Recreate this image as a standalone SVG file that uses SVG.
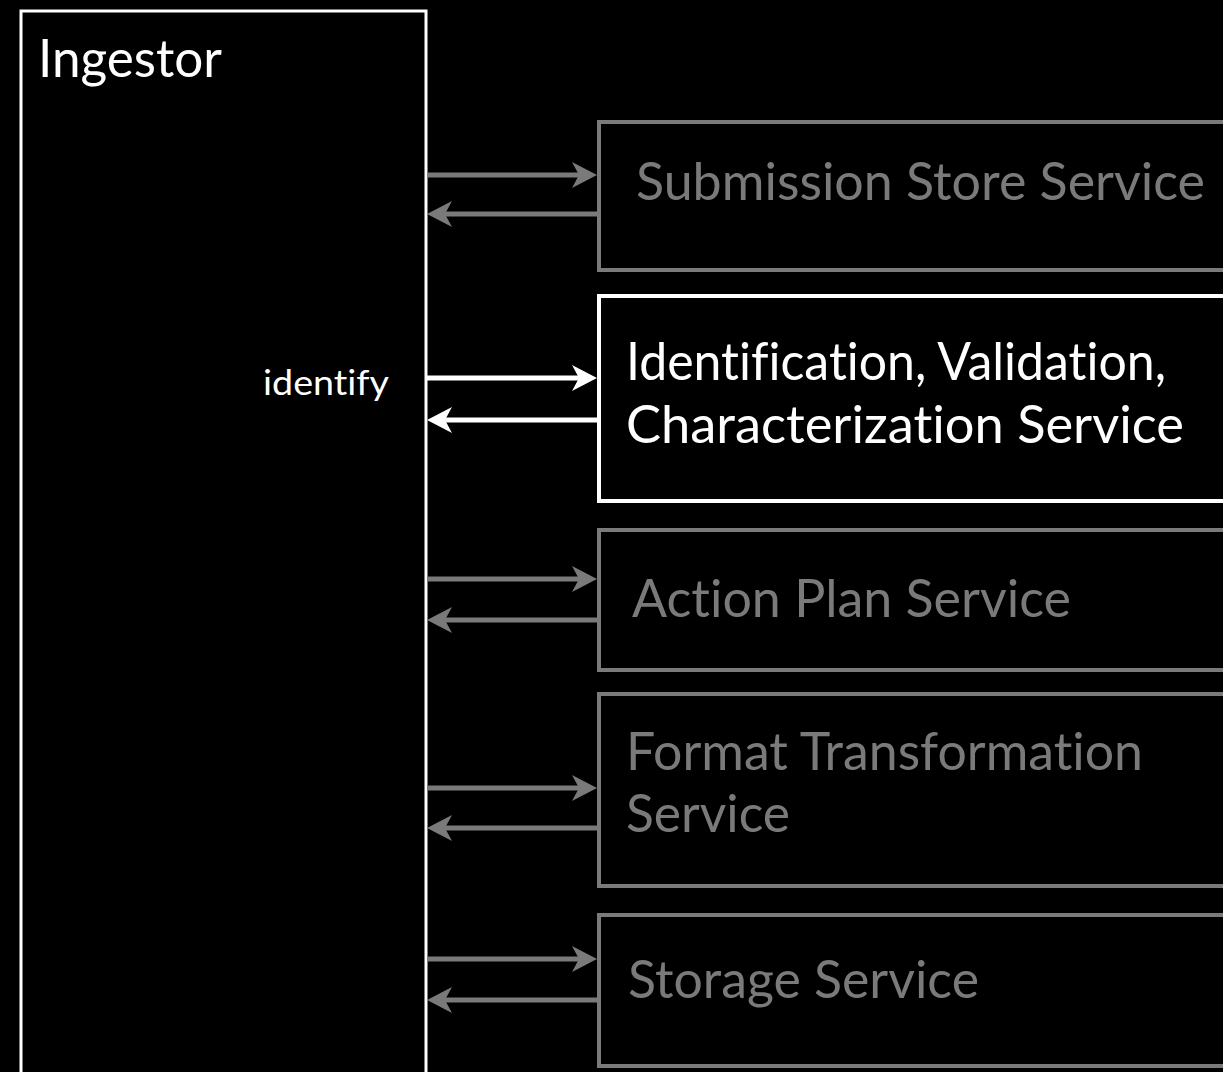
<svg xmlns="http://www.w3.org/2000/svg" width="1223" height="1072" viewBox="0 0 1223 1072">
<style>
text{font-variant-ligatures:none;font-feature-settings:"liga" 0,"clig" 0}
.t{font-family:"Lato","Open Sans","Liberation Sans",sans-serif;font-size:52px}
.g{fill:#7a7a7a}
.w{fill:#ffffff}
.bg{fill:#000;stroke:#7a7a7a;stroke-width:4}
.bw{fill:#000;stroke:#ffffff;stroke-width:4}
.lg{stroke:#7a7a7a;stroke-width:5;fill:none}
.lw{stroke:#ffffff;stroke-width:5;fill:none}
</style>
<defs>
<path id="hr" d="M0,0 L-25,-13 L-18,0 L-25,13 Z"/>
<path id="hl" d="M0,0 L25,-13 L18,0 L25,13 Z"/>
</defs>
<rect x="0" y="0" width="1223" height="1072" fill="#000"/>
<g id="ingestor">
<rect x="21" y="11" width="405" height="1080" fill="#000" stroke="#fff" stroke-width="3"/>
<text class="t w" x="38" y="77" textLength="184" lengthAdjust="spacingAndGlyphs">Ingestor</text>
</g>
<g id="submission">
<rect class="bg" x="599" y="122" width="640" height="148"/>
<text class="t g" x="636" y="200" textLength="569" lengthAdjust="spacingAndGlyphs">Submission Store Service</text>
</g>
<g id="identification">
<rect class="bw" x="599" y="296" width="640" height="205"/>
<text class="t w" x="626" y="380" textLength="540" lengthAdjust="spacingAndGlyphs">Identification, Validation,</text>
<text class="t w" x="626" y="443" textLength="558" lengthAdjust="spacingAndGlyphs">Characterization Service</text>
</g>
<g id="actionplan">
<rect class="bg" x="599" y="530" width="640" height="140"/>
<text class="t g" x="632" y="617" textLength="439" lengthAdjust="spacingAndGlyphs">Action Plan Service</text>
</g>
<g id="format">
<rect class="bg" x="599" y="694" width="640" height="192"/>
<text class="t g" x="626" y="770" textLength="517" lengthAdjust="spacingAndGlyphs">Format Transformation</text>
<text class="t g" x="626" y="832" textLength="164" lengthAdjust="spacingAndGlyphs">Service</text>
</g>
<g id="storage">
<rect class="bg" x="599" y="915" width="640" height="151"/>
<text class="t g" x="628" y="998" textLength="351" lengthAdjust="spacingAndGlyphs">Storage Service</text>
</g>
<g id="connectors">
<line class="lg" x1="427" y1="175" x2="582" y2="175"/><use href="#hr" x="597" y="175" fill="#7a7a7a"/>
<line class="lg" x1="597" y1="214" x2="442" y2="214"/><use href="#hl" x="427" y="214" fill="#7a7a7a"/>
<line class="lw" x1="427" y1="378" x2="582" y2="378"/><use href="#hr" x="597" y="378" fill="#fff"/>
<line class="lw" x1="597" y1="420" x2="442" y2="420"/><use href="#hl" x="427" y="420" fill="#fff"/>
<line class="lg" x1="427" y1="579" x2="582" y2="579"/><use href="#hr" x="597" y="579" fill="#7a7a7a"/>
<line class="lg" x1="597" y1="620" x2="442" y2="620"/><use href="#hl" x="427" y="620" fill="#7a7a7a"/>
<line class="lg" x1="427" y1="788" x2="582" y2="788"/><use href="#hr" x="597" y="788" fill="#7a7a7a"/>
<line class="lg" x1="597" y1="828" x2="442" y2="828"/><use href="#hl" x="427" y="828" fill="#7a7a7a"/>
<line class="lg" x1="427" y1="959" x2="582" y2="959"/><use href="#hr" x="597" y="959" fill="#7a7a7a"/>
<line class="lg" x1="597" y1="1000" x2="442" y2="1000"/><use href="#hl" x="427" y="1000" fill="#7a7a7a"/>
<text x="263" y="395" font-family="Lato,'Open Sans','Liberation Sans',sans-serif" font-size="35" fill="#fff" textLength="126" lengthAdjust="spacingAndGlyphs">identify</text>
</g>
</svg>
